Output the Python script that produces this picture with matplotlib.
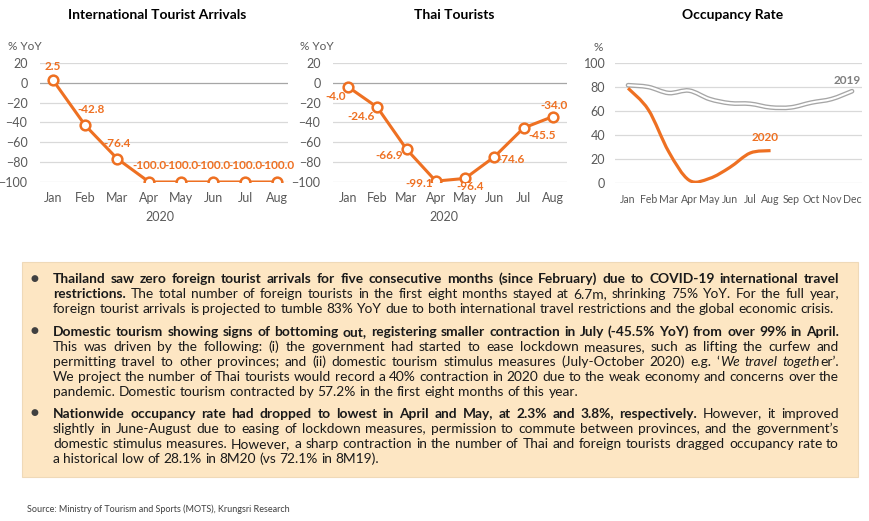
import re
import numpy as np
import matplotlib
matplotlib.use("Agg")
import matplotlib.pyplot as plt
from matplotlib.path import Path
from matplotlib.patches import PathPatch, Rectangle

plt.rcParams['font.family'] = ['Lato', 'DejaVu Sans']

# ---- datos ----
meses = ['Jan', 'Feb', 'Mar', 'Apr', 'May', 'Jun', 'Jul', 'Aug']
meses_12 = ['Jan', 'Feb', 'Mar', 'Apr', 'May', 'Jun', 'Jul', 'Aug', 'Sep', 'Oct', 'Nov', 'Dec']
internacional = [2.5, -42.8, -76.4, -100.0, -100.0, -100.0, -100.0, -100.0]
tailandeses = [-4.0, -24.6, -66.9, -99.1, -96.4, -74.6, -45.5, -34.0]
ocupacion_2019 = [81.5, 80, 75, 77, 70, 66.5, 66, 63, 63, 67, 70, 76.5]
ocupacion_2020 = [79, 61, 26, 2.3, 3.8, 13, 25, 27]
yoy_ticks = [-100, -80, -60, -40, -20, 0, 20]
occ_ticks = [0, 20, 40, 60, 80, 100]

W, H = 870, 521
NARANJA = '#EE7022'
GRIS_TXT = '#595959'
GRID = '#D9D9D9'

fig = plt.figure(figsize=(W / 100, H / 100), dpi=100)


def caja(x0, x1, y_top, y_bot):
    # convierte pixeles (origen arriba-izquierda) a fracciones de figura
    return [x0 / W, 1 - y_bot / H, (x1 - x0) / W, (y_bot - y_top) / H]


def estilo_ejes(ax, ticks, etiquetas_x, pad_y, pad_x, size_x, zero_dark=True):
    ax.set_ylim(ticks[0], ticks[-1])
    ax.set_yticks(ticks)
    for t in ticks:
        col = '#A6A6A6' if (t == 0 and zero_dark) else GRID
        ax.axhline(t, color=col, lw=0.9, zorder=0)
    for s in ax.spines.values():
        s.set_visible(False)
    ax.set_xticks(range(len(etiquetas_x)))
    ax.set_xticklabels(etiquetas_x)
    ax.tick_params(axis='y', length=0, colors=GRIS_TXT, labelsize=9, pad=pad_y)
    ax.tick_params(axis='x', length=0, colors=GRIS_TXT, labelsize=size_x, pad=pad_x)
    ax.set_facecolor('none')


# ---- grafico 1: llegadas internacionales ----
ax1 = fig.add_axes(caja(40, 288, 63, 182))
x8 = np.arange(len(meses))
ax1.plot(x8, internacional, color=NARANJA, lw=2.2, marker='o', ms=7,
         mfc='white', mec=NARANJA, mew=1.8, zorder=3)
ax1.set_xlim(-0.41, 7.34)
estilo_ejes(ax1, yoy_ticks, meses, 9, 7, 9)
off1 = [(0, 14), (6, 16), (0, 15), (0, 16), (0, 16), (0, 16), (0, 16), (0, 16)]
for i, v in enumerate(internacional):
    ax1.annotate(f'{v:.1f}', (i, v), xytext=off1[i], textcoords='offset pixels',
                 ha='center', va='center', color=NARANJA, fontsize=8.5,
                 fontweight='bold', zorder=4)

# ---- grafico 2: turistas tailandeses ----
ax2 = fig.add_axes(caja(333, 567, 63, 182))
ax2.plot(x8, tailandeses, color=NARANJA, lw=2.2, marker='o', ms=7,
         mfc='white', mec=NARANJA, mew=1.8, zorder=3)
ax2.set_xlim(-0.51, 7.48)
estilo_ejes(ax2, yoy_ticks, meses, 9, 7, 9)
off2 = [(-12, -10), (-16, -9), (-17, -6), (-17, -2), (5, -8), (17, -3), (18, -8), (1, 11)]
for i, v in enumerate(tailandeses):
    ax2.annotate(f'{v:.1f}', (i, v), xytext=off2[i], textcoords='offset pixels',
                 ha='center', va='center', color=NARANJA, fontsize=8.5,
                 fontweight='bold', zorder=4)


# ---- grafico 3: tasa de ocupacion ----
def curva_suave(xs, ys):
    pts = np.column_stack([xs, ys]).astype(float)
    n = len(pts)
    verts = [pts[0]]
    codes = [Path.MOVETO]
    for i in range(n - 1):
        p0 = pts[i - 1] if i > 0 else pts[i]
        p1 = pts[i]
        p2 = pts[i + 1]
        p3 = pts[i + 2] if i + 2 < n else pts[i + 1]
        verts += [p1 + (p2 - p0) / 6, p2 - (p3 - p1) / 6, p2]
        codes += [Path.CURVE4] * 3
    return Path(verts, codes)


ax3 = fig.add_axes(caja(615, 862, 63, 183))
ax3.set_xlim(-0.64, 11.49)
estilo_ejes(ax3, occ_ticks, meses_12, 7, 8, 7.6, zero_dark=False)
p19 = curva_suave(np.arange(12), ocupacion_2019)
ax3.add_patch(PathPatch(p19, fill=False, ec='#A6A6A6', lw=3.4, zorder=2,
                        capstyle='round'))
ax3.add_patch(PathPatch(p19, fill=False, ec='white', lw=1.5, zorder=2.1,
                        capstyle='round'))
p20 = curva_suave(np.arange(8), ocupacion_2020)
ax3.add_patch(PathPatch(p20, fill=False, ec=NARANJA, lw=2.3, zorder=3))
ax3.text(6.73, 38, '2020', color=NARANJA, fontsize=8.5, fontweight='bold',
         ha='center', va='center')
ax3.text(10.75, 85, '2019', color='#7F7F7F', fontsize=8.5, fontweight='bold',
         ha='center', va='center')


def ftxt(x, y, s, **kw):
    return fig.text(x / W, 1 - y / H, s, **kw)


# titulos y etiquetas
ftxt(157, 15, 'International Tourist Arrivals', ha='center', va='center',
     fontsize=10, fontweight='bold', color='black')
ftxt(454, 15, 'Thai Tourists', ha='center', va='center',
     fontsize=10, fontweight='bold', color='black')
ftxt(733, 15, 'Occupancy Rate', ha='center', va='center',
     fontsize=10, fontweight='bold', color='black')
ftxt(8, 46, '% YoY', ha='left', va='center', fontsize=8.5, color=GRIS_TXT)
ftxt(300, 46, '% YoY', ha='left', va='center', fontsize=8.5, color=GRIS_TXT)
ftxt(594, 47, '%', ha='left', va='center', fontsize=8.5, color=GRIS_TXT)
ftxt(160, 217, '2020', ha='center', va='center', fontsize=9, color=GRIS_TXT)
ftxt(444, 217, '2020', ha='center', va='center', fontsize=9, color=GRIS_TXT)

# ---- recuadro de texto ----
fig.patches.append(Rectangle((22 / W, 1 - 477 / H), (858 - 22) / W, (477 - 262) / H,
                             transform=fig.transFigure, facecolor='#FDE6C3',
                             edgecolor='#EFD9B8', lw=0.8, zorder=0))

parrafos = [
    [
        [("Thailand saw zero foreign tourist arrivals for five consecutive months (since February) due to COVID-19 international travel", 'b')],
        [("restrictions.", 'b'), (" The total number of foreign tourists in the first eight months stayed at 6.7m, shrinking 75% YoY. For the full year,", 'n')],
        [("foreign tourist arrivals is projected to tumble 83% YoY due to both international travel restrictions and the global economic crisis.", 'n')],
    ],
    [
        [("Domestic tourism showing signs of bottoming out, registering smaller contraction in July (-45.5% YoY) from over 99% in April.", 'b')],
        [("This was driven by the following: (i) the government had started to ease lockdown measures, such as lifting the curfew and", 'n')],
        [("permitting travel to other provinces; and (ii) domestic tourism stimulus measures (July-October 2020) e.g. \u2018", 'n'),
         ("We travel togeth", 'i'), ("er\u2019.", 'n')],
        [("We project the number of Thai tourists would record a 40% contraction in 2020 due to the weak economy and concerns over the", 'n')],
        [("pandemic. Domestic tourism contracted by 57.2% in the first eight months of this year.", 'n')],
    ],
    [
        [("Nationwide occupancy rate had dropped to lowest in April and May, at 2.3% and 3.8%, respectively.", 'b'), (" However, it improved", 'n')],
        [("slightly in June-August due to easing of lockdown measures, permission to commute between provinces, and the government\u2019s", 'n')],
        [("domestic stimulus measures. However, a sharp contraction in the number of Thai and foreign tourists dragged occupancy rate to", 'n')],
        [("a historical low of 28.1% in 8M20 (vs 72.1% in 8M19).", 'n')],
    ],
]
y_lineas = [[278.3, 293.3, 308.5], [331, 346, 361, 375.8, 391], [412.8, 427.8, 443.2, 458.3]]
X_IZQ, X_DER = 53, 839
COLOR_TXT = '#1A1A1A'

renderer = fig.canvas.get_renderer()


def kw_estilo(st, fs):
    return dict(fontsize=fs, color=COLOR_TXT,
                fontweight='bold' if st == 'b' else 'normal',
                fontstyle='italic' if st == 'i' else 'normal')


def ancho(s, st, fs):
    t = fig.text(0, 0, s, **kw_estilo(st, fs))
    w = t.get_window_extent(renderer).width
    t.remove()
    return w


def palabras(runs):
    res = []
    nueva = True
    for txt, st in runs:
        for tok in re.findall(r'\S+|\s+', txt):
            if tok.isspace():
                nueva = True
            else:
                if nueva or not res:
                    res.append([(tok, st)])
                else:
                    res[-1].append((tok, st))
                nueva = False
    return res


# tamano de letra ajustado al ancho disponible
fs0 = 10
esp0 = ancho('a a', 'n', fs0) - ancho('aa', 'n', fs0)
max_nat = 0
for par in parrafos:
    for runs in par[:-1]:
        ws = palabras(runs)
        nat = sum(ancho(s, st, fs0) for w in ws for s, st in w) + esp0 * (len(ws) - 1)
        max_nat = max(max_nat, nat)
fs = fs0 * (X_DER - X_IZQ) / max_nat * 0.995
esp = ancho('a a', 'n', fs) - ancho('aa', 'n', fs)
base = 0.48 * fs  # desplazamiento a la linea base (px)

for par, ys in zip(parrafos, y_lineas):
    ftxt(34, ys[0], '\u25CF', ha='center', va='center', fontsize=6.5,
         color='#404040', family='DejaVu Sans')
    for k, (runs, y) in enumerate(zip(par, ys)):
        ws = palabras(runs)
        anchos = [[ancho(s, st, fs) for s, st in w] for w in ws]
        total = sum(sum(a) for a in anchos)
        ultima = k == len(par) - 1
        hueco = esp if ultima else (X_DER - X_IZQ - total) / (len(ws) - 1)
        x = X_IZQ
        for w, aw in zip(ws, anchos):
            for (s, st), a in zip(w, aw):
                ftxt(x, y + base, s, ha='left', va='baseline', **kw_estilo(st, fs))
                x += a
            x += hueco

ftxt(27, 509, 'Source: Ministry of Tourism and Sports (MOTS), Krungsri Research',
     ha='left', va='center', fontsize=6.5, color='#404040')

fig.savefig('out.png', dpi=100)
plt.close(fig)
